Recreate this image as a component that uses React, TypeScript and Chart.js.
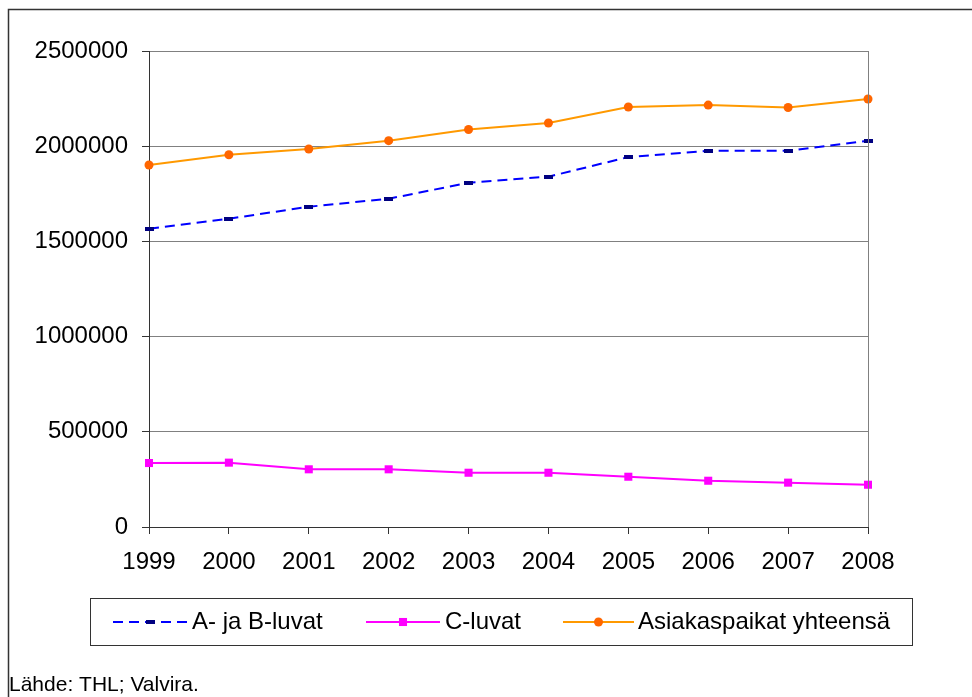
import React, { useEffect, useRef } from 'react';
import { Chart, registerables } from 'chart.js';

Chart.register(...registerables);

const years = ['1999', '2000', '2001', '2002', '2003', '2004', '2005', '2006', '2007', '2008'];
const abLuvat = [1567000, 1619000, 1682000, 1724000, 1808000, 1840000, 1943000, 1976000, 1976000, 2029000];
const cLuvat = [336000, 338000, 303000, 303000, 285000, 285000, 264000, 243000, 233000, 222000];
const asiakaspaikat = [1901000, 1955000, 1985000, 2029000, 2088000, 2122000, 2206000, 2216000, 2203000, 2248000];
const yTickValues = [0, 500000, 1000000, 1500000, 2000000, 2500000];
const seriesLabels = ['A- ja B-luvat', 'C-luvat', 'Asiakaspaikat yhteensä'];
const sourceText = 'Lähde: THL; Valvira.';

const FONT = '"Liberation Sans", Arial, sans-serif';

function makeDashMarker(): HTMLCanvasElement {
  const c = document.createElement('canvas');
  c.width = 9;
  c.height = 4;
  const g = c.getContext('2d')!;
  g.fillStyle = '#000080';
  g.fillRect(0, 0, 9, 4);
  return c;
}

export default function App() {
  const ref = useRef<HTMLCanvasElement | null>(null);

  useEffect(() => {
    if (!ref.current) return;
    const dashMarker = makeDashMarker();

    const frameAndLegend = {
      id: 'frameAndLegend',
      afterDraw(chart: any) {
        const ctx = chart.ctx as CanvasRenderingContext2D;
        const area = chart.chartArea;
        ctx.save();
        // right plot border
        ctx.strokeStyle = '#808080';
        ctx.lineWidth = 1;
        ctx.beginPath();
        ctx.moveTo(Math.round(area.right) + 0.5, area.top);
        ctx.lineTo(Math.round(area.right) + 0.5, area.bottom);
        ctx.stroke();

        // outer frame (top & left visible)
        ctx.strokeStyle = '#333333';
        ctx.lineWidth = 1.5;
        ctx.beginPath();
        ctx.moveTo(8.5, 697);
        ctx.lineTo(8.5, 9.5);
        ctx.lineTo(972, 9.5);
        ctx.stroke();

        // legend box
        ctx.strokeStyle = '#333333';
        ctx.lineWidth = 1;
        ctx.strokeRect(90.5, 598.5, 822, 47);

        const items = [
          { x0: 113, x1: 188, tx: 192 },
          { x0: 366, x1: 440, tx: 445 },
          { x0: 563, x1: 634, tx: 638 },
        ];
        const ly = 622;
        chart.data.datasets.forEach((ds: any, i: number) => {
          const it = items[i];
          ctx.save();
          ctx.strokeStyle = ds.borderColor;
          ctx.lineWidth = ds.borderWidth;
          ctx.setLineDash(ds.borderDash || []);
          ctx.beginPath();
          ctx.moveTo(it.x0, ly);
          ctx.lineTo(it.x1, ly);
          ctx.stroke();
          ctx.setLineDash([]);
          const cx = (it.x0 + it.x1) / 2;
          if (ds.pointStyle instanceof HTMLCanvasElement) {
            const img = ds.pointStyle as HTMLCanvasElement;
            ctx.drawImage(img, cx - img.width / 2, ly - img.height / 2);
          } else if (ds.pointStyle === 'rect') {
            const s = ds.pointRadius / Math.SQRT2;
            ctx.fillStyle = ds.pointBackgroundColor;
            ctx.fillRect(cx - s, ly - s, 2 * s, 2 * s);
          } else {
            ctx.fillStyle = ds.pointBackgroundColor;
            ctx.beginPath();
            ctx.arc(cx, ly, ds.pointRadius, 0, Math.PI * 2);
            ctx.fill();
          }
          ctx.fillStyle = '#000000';
          ctx.font = `24px ${FONT}`;
          ctx.textBaseline = 'alphabetic';
          ctx.textAlign = 'left';
          ctx.fillText(ds.label, it.tx, 629);
          ctx.restore();
        });

        // source text
        ctx.fillStyle = '#000000';
        ctx.font = `21px ${FONT}`;
        ctx.textBaseline = 'alphabetic';
        ctx.textAlign = 'left';
        ctx.fillText(sourceText, 9, 691);
        ctx.restore();
      },
    };

    const chart = new Chart(ref.current, {
      type: 'line',
      data: {
        labels: years,
        datasets: [
          {
            label: seriesLabels[0],
            data: abLuvat,
            borderColor: '#0000FF',
            borderWidth: 2,
            borderDash: [10, 6],
            pointStyle: dashMarker as any,
            pointRadius: 5,
            pointBackgroundColor: '#000080',
            pointBorderColor: '#000080',
            tension: 0,
            clip: false as any,
          },
          {
            label: seriesLabels[1],
            data: cLuvat,
            borderColor: '#FF00FF',
            borderWidth: 2,
            pointStyle: 'rect',
            pointRadius: 5.7,
            pointBorderWidth: 0,
            pointBackgroundColor: '#FF00FF',
            pointBorderColor: '#FF00FF',
            tension: 0,
            clip: false as any,
          },
          {
            label: seriesLabels[2],
            data: asiakaspaikat,
            borderColor: '#FF9900',
            borderWidth: 2,
            pointStyle: 'circle',
            pointRadius: 4.5,
            pointBorderWidth: 0,
            pointBackgroundColor: '#FF6600',
            pointBorderColor: '#FF6600',
            tension: 0,
            clip: false as any,
          },
        ],
      },
      options: {
        animation: false,
        responsive: false,
        maintainAspectRatio: false,
        layout: { padding: { top: 51, right: 104, bottom: 0, left: 0 } },
        plugins: {
          legend: { display: false },
          tooltip: { enabled: false },
          title: { display: false },
        },
        scales: {
          x: {
            type: 'category',
            offset: false,
            grid: {
              drawOnChartArea: false,
              drawTicks: true,
              tickLength: 7,
              tickColor: '#333333',
            },
            border: { display: true, color: '#333333', width: 1 },
            ticks: {
              color: '#000000',
              font: { family: FONT, size: 24 },
              padding: 14,
              maxRotation: 0,
              autoSkip: false,
            },
            afterFit(scale: any) {
              scale.height = 170;
            },
          },
          y: {
            min: 0,
            max: 2500000,
            afterBuildTicks(scale: any) {
              scale.ticks = yTickValues.map((v) => ({ value: v }));
            },
            grid: {
              color: '#808080',
              lineWidth: 1,
              drawTicks: true,
              tickLength: 7,
              tickColor: '#333333',
            },
            border: { display: true, color: '#333333', width: 1 },
            ticks: {
              color: '#000000',
              font: { family: FONT, size: 24 },
              padding: 14,
              callback: (v: any) => String(v),
            },
            afterFit(scale: any) {
              scale.width = 149;
            },
          },
        },
      },
      plugins: [frameAndLegend],
    });

    return () => chart.destroy();
  }, []);

  return (
    <div style={{ position: 'fixed', left: 0, top: 0, width: 972, height: 697, background: '#ffffff' }}>
      <canvas ref={ref} width={972} height={697} style={{ display: 'block', width: 972, height: 697 }} />
    </div>
  );
}
